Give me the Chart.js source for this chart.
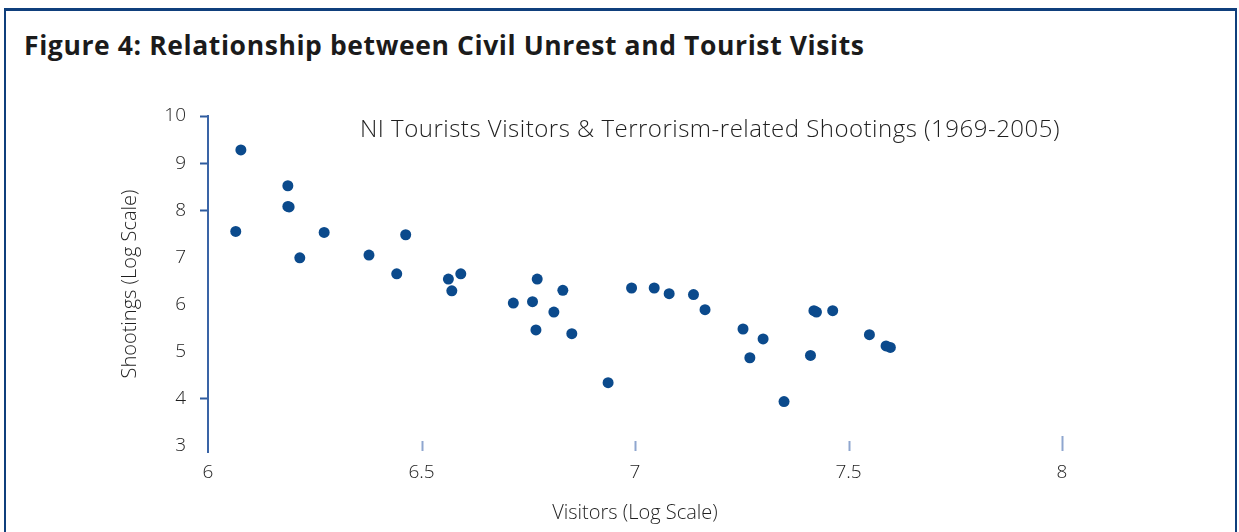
<!DOCTYPE html>
<html>
<head>
  <meta charset="UTF-8">
  <script src="https://cdn.jsdelivr.net/npm/chart.js"></script>
  <title>Figure 4</title>
  <style>
    html, body { margin: 0; padding: 0; background: #fff; }
    body { width: 1239px; height: 532px; position: relative; overflow: hidden; font-family: "Open Sans", sans-serif; }
    .frame {
      position: absolute; left: 4px; top: 8px; width: 1229px; height: 600px;
      border-top: 3px solid #0f3f7c; border-left: 2px solid #0f3f7c; border-right: 2px solid #0f3f7c;
    }
    h1 {
      position: absolute; left: 24px; top: 27px; margin: 0;
      font-size: 26.5px; font-weight: 700; letter-spacing: 0.6px; color: #1b1b1b; white-space: nowrap;
    }
    .subtitle {
      position: absolute; left: 360px; top: 111px;
      font-size: 24px; font-weight: 300; letter-spacing: 0.5px; color: #1f1f1f; white-space: nowrap;
    }
    .wrap { position: absolute; left: 0; top: 0; width: 1239px; height: 532px; }
  </style>
</head>
<body>
  <div class="frame"></div>
  <h1>Figure 4: Relationship between Civil Unrest and Tourist Visits</h1>
  <div class="wrap"><canvas id="scatter"></canvas></div>
  <div class="subtitle">NI Tourists Visitors &amp; Terrorism-related Shootings (1969-2005)</div>
  <script>
    // visitors (log scale) and shootings (log scale)
    const visitors = [6.077, 6.187, 6.187, 6.190, 6.065, 6.272, 6.215, 6.377, 6.463, 6.442,
      6.563, 6.571, 6.592, 6.771, 6.831, 6.715, 6.760, 6.810, 6.768, 6.852,
      6.937, 6.992, 7.045, 7.080, 7.137, 7.164, 7.253, 7.300, 7.269, 7.349,
      7.411, 7.419, 7.425, 7.463, 7.549, 7.588, 7.598];
    const shootings = [9.28, 8.52, 8.08, 8.07, 7.55, 7.53, 6.99, 7.05, 7.48, 6.65,
      6.54, 6.29, 6.65, 6.54, 6.30, 6.03, 6.06, 5.84, 5.46, 5.38,
      4.34, 6.35, 6.35, 6.23, 6.21, 5.89, 5.48, 5.27, 4.87, 3.94,
      4.92, 5.87, 5.84, 5.87, 5.36, 5.12, 5.09];
    const xTickLabels = ['6', '6.5', '7', '7.5', '8'];
    const yTickValues = [3, 4, 5, 6, 7, 8, 9, 10];
    const yTickMarks = [10, 9, 8, 4];
    const xTickMarks = [6.5, 7, 7.5, 8];

    const points = visitors.map((v, i) => ({ x: v, y: shootings[i] }));

    // small vertical marks just above the bottom of the plot for the x ticks
    const xMarks = {
      id: 'xMarks',
      afterDraw(chart) {
        const c = chart.ctx;
        const xs = chart.scales.x;
        const bottom = chart.chartArea.bottom;
        c.save();
        c.strokeStyle = '#8fa6cf';
        c.lineWidth = 2;
        xTickMarks.forEach(v => {
          const px = Math.round(xs.getPixelForValue(v)) + 0.5;
          c.beginPath();
          c.moveTo(px, bottom - (v === 8 ? 16 : 11));
          c.lineTo(px, bottom - 1);
          c.stroke();
        });
        c.restore();
      }
    };

    const ctx = document.getElementById('scatter').getContext('2d');
    const chart = new Chart(ctx, {
      type: 'scatter',
      data: {
        datasets: [{
          label: 'Shootings',
          data: points,
          backgroundColor: '#0b4a8c',
          borderColor: '#0b4a8c',
          borderWidth: 0,
          pointRadius: 5.5,
          pointHoverRadius: 5.5
        }]
      },
      options: {
        responsive: true,
        maintainAspectRatio: false,
        animation: false,
        layout: { padding: { left: 114, right: 177, top: 116, bottom: 0 } },
        plugins: { legend: { display: false }, tooltip: { enabled: false } },
        scales: {
          x: {
            type: 'linear',
            min: 6,
            max: 8,
            afterFit(scale) { scale.height = 80; },
            border: { display: false },
            grid: { display: false },
            ticks: {
              stepSize: 0.5,
              padding: 1,
              color: '#1f1f1f',
              font: { family: 'Open Sans', size: 19, weight: 300 },
              callback: (v, i) => xTickLabels[i]
            },
            title: {
              display: true,
              text: 'Visitors (Log Scale)',
              color: '#1f1f1f',
              padding: { top: 0, bottom: 7 },
              font: { family: 'Open Sans', size: 20, weight: 300 }
            }
          },
          y: {
            type: 'linear',
            min: 2.87,
            max: 10,
            afterFit(scale) { scale.width = 94; },
            afterBuildTicks(scale) {
              scale.ticks = yTickValues.map(v => ({ value: v }));
            },
            border: { display: true, color: '#3a64a6', width: 2 },
            grid: {
              drawOnChartArea: false,
              drawTicks: true,
              tickLength: 8,
              tickWidth: 2,
              tickColor: (c) => (c.tick && yTickMarks.includes(c.tick.value)) ? '#2e5b9e' : 'rgba(0,0,0,0)'
            },
            ticks: {
              padding: 14,
              color: '#1f1f1f',
              font: { family: 'Open Sans', size: 19, weight: 300 }
            },
            title: {
              display: true,
              text: 'Shootings (Log Scale)',
              color: '#1f1f1f',
              padding: 4,
              font: { family: 'Open Sans', size: 20, weight: 300 }
            }
          }
        }
      },
      plugins: [xMarks]
    });
  </script>
</body>
</html>
